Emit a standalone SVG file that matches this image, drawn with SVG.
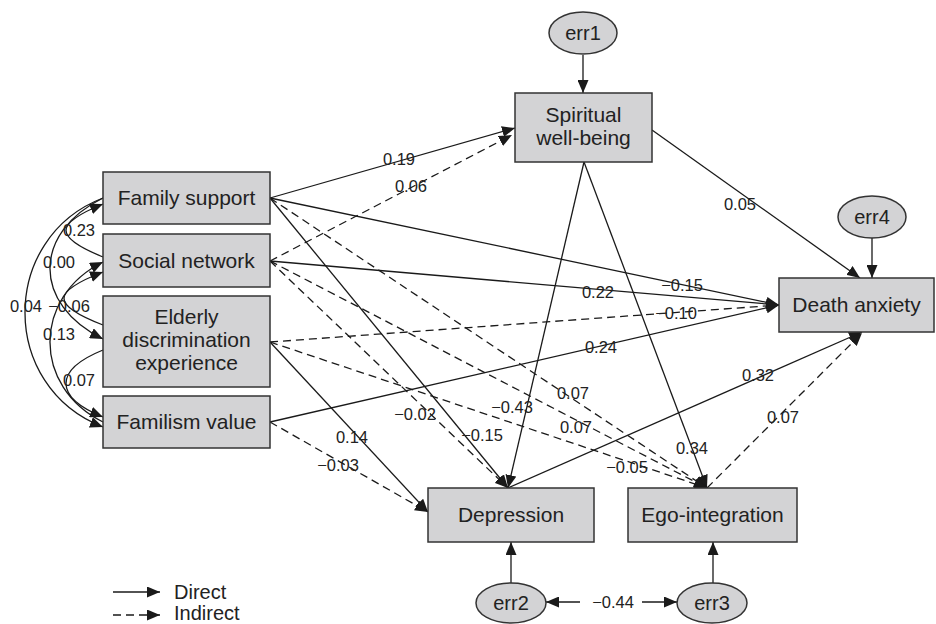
<svg xmlns="http://www.w3.org/2000/svg" width="936" height="624" viewBox="0 0 936 624">
<defs>
<marker id="ah" viewBox="0 0 13 11" refX="13" refY="5.5" markerWidth="13" markerHeight="11" markerUnits="userSpaceOnUse" orient="auto">
<path d="M0,0 L13,5.5 L0,11 z" fill="#1a1a1a"/>
</marker>
</defs>
<style>
.s{fill:none;stroke:#1a1a1a;stroke-width:1.3;marker-end:url(#ah)}
.d{fill:none;stroke:#1a1a1a;stroke-width:1.3;stroke-dasharray:8 5;marker-end:url(#ah)}
.box{fill:#d3d3d5;stroke:#333;stroke-width:1.5}
.t{font-family:"Liberation Sans",Arial,sans-serif;font-size:21px;fill:#222;text-anchor:middle}
.e{font-family:"Liberation Sans",Arial,sans-serif;font-size:20px;fill:#222;text-anchor:middle}
.n{font-family:"Liberation Sans",Arial,sans-serif;font-size:16.5px;fill:#222;text-anchor:middle}
.l{font-family:"Liberation Sans",Arial,sans-serif;font-size:20px;fill:#222}
</style>
<rect width="936" height="624" fill="#fff"/>

<g id="connectors">
<!-- correlations -->
<path class="s" d="M103,198 C-1,238 -1,387 103,427"/>
<path class="s" d="M103,198 C32.3,233 32.3,304 103,339"/>
<path class="s" d="M103,422 C32.3,387 32.3,297 103,262"/>
<path class="s" d="M103,257 C53.7,237 53.7,224 103,204"/>
<path class="s" d="M103,325 C51,305 51,292 103,272"/>
<path class="s" d="M103,350 C53.7,370 53.7,397 103,417"/>
<!-- solid paths -->
<path class="s" d="M270,198 L515,128"/>
<path class="s" d="M270,198 L779,305"/>
<path class="s" d="M270,198 L508,488"/>
<path class="s" d="M270,261 L779,305"/>
<path class="s" d="M270,342 L428,512"/>
<path class="s" d="M270,422 L779,305"/>
<path class="s" d="M584,162 L508,488"/>
<path class="s" d="M584,162 L707,488"/>
<path class="s" d="M652,130 L860,278"/>
<path class="s" d="M508,488 L862,332"/>
<path class="s" d="M583,55 L583,93"/>
<path class="s" d="M872,238 L872,278"/>
<path class="s" d="M511,583 L511,542"/>
<path class="s" d="M713,583 L713,542"/>
<path class="s" d="M580,602 L546,602"/>
<path class="s" d="M642,602 L677,602"/>
<!-- dashed paths -->
<path class="d" d="M270,261 L512,135"/>
<path class="d" d="M270,261 L508,488"/>
<path class="d" d="M270,198 L707,488"/>
<path class="d" d="M270,261 L707,488"/>
<path class="d" d="M270,342 L707,488"/>
<path class="d" d="M270,342 L779,305"/>
<path class="d" d="M270,422 L428,512"/>
<path class="d" d="M707,488 L862,333"/>
<!-- legend -->
<path class="s" d="M113,592 L160,592"/>
<path class="d" d="M113,615 L160,615"/>
</g>

<g id="labels">
<text class="n" x="26" y="312">0.04</text>
<text class="n" x="59" y="268">0.00</text>
<text class="n" x="79" y="236">0.23</text>
<text class="n" x="69" y="312">−0.06</text>
<text class="n" x="59" y="340">0.13</text>
<text class="n" x="79" y="386">0.07</text>
<text class="n" x="399" y="165">0.19</text>
<text class="n" x="411" y="192">0.06</text>
<text class="n" x="740" y="210">0.05</text>
<text class="n" x="682" y="291">−0.15</text>
<text class="n" x="598" y="298">0.22</text>
<text class="n" x="676" y="319">−0.10</text>
<text class="n" x="601" y="353">0.24</text>
<text class="n" x="758" y="381">0.32</text>
<text class="n" x="573" y="399">0.07</text>
<text class="n" x="512" y="413">−0.43</text>
<text class="n" x="783" y="423">0.07</text>
<text class="n" x="415" y="420">−0.02</text>
<text class="n" x="576" y="433">0.07</text>
<text class="n" x="352" y="443">0.14</text>
<text class="n" x="482" y="441">−0.15</text>
<text class="n" x="692" y="454">0.34</text>
<text class="n" x="338" y="471">−0.03</text>
<text class="n" x="627" y="473">−0.05</text>
<text class="n" x="613" y="608">−0.44</text>
</g>

<g id="family-support"><rect class="box" x="103" y="172" width="167" height="52"/><text class="t" x="186.5" y="205">Family support</text></g>
<g id="social-network"><rect class="box" x="103" y="234" width="167" height="53"/><text class="t" x="186.5" y="268">Social network</text></g>
<g id="elderly-discrimination"><rect class="box" x="103" y="296" width="167" height="91"/><text class="t" x="186.5" y="324">Elderly</text><text class="t" x="186.5" y="347">discrimination</text><text class="t" x="186.5" y="370">experience</text></g>
<g id="familism-value"><rect class="box" x="103" y="396" width="167" height="52"/><text class="t" x="186.5" y="429">Familism value</text></g>
<g id="spiritual-well-being"><rect class="box" x="515" y="93" width="137" height="69"/><text class="t" x="583.5" y="122">Spiritual</text><text class="t" x="583.5" y="145">well-being</text></g>
<g id="death-anxiety"><rect class="box" x="779" y="278" width="155" height="54"/><text class="t" x="856.5" y="312">Death anxiety</text></g>
<g id="depression"><rect class="box" x="428" y="488" width="166" height="54"/><text class="t" x="511" y="522">Depression</text></g>
<g id="ego-integration"><rect class="box" x="628" y="488" width="169" height="54"/><text class="t" x="712.5" y="522">Ego-integration</text></g>
<g id="err1"><ellipse class="box" cx="583" cy="33" rx="34" ry="21"/><text class="e" x="583" y="40">err1</text></g>
<g id="err4"><ellipse class="box" cx="872" cy="217" rx="34" ry="21"/><text class="e" x="872" y="224">err4</text></g>
<g id="err2"><ellipse class="box" cx="511" cy="603" rx="35" ry="20"/><text class="e" x="511" y="610">err2</text></g>
<g id="err3"><ellipse class="box" cx="712" cy="603" rx="35" ry="20"/><text class="e" x="712" y="610">err3</text></g>

<g id="legend">
<text class="l" x="174" y="599">Direct</text>
<text class="l" x="174" y="620">Indirect</text>
</g>
</svg>
